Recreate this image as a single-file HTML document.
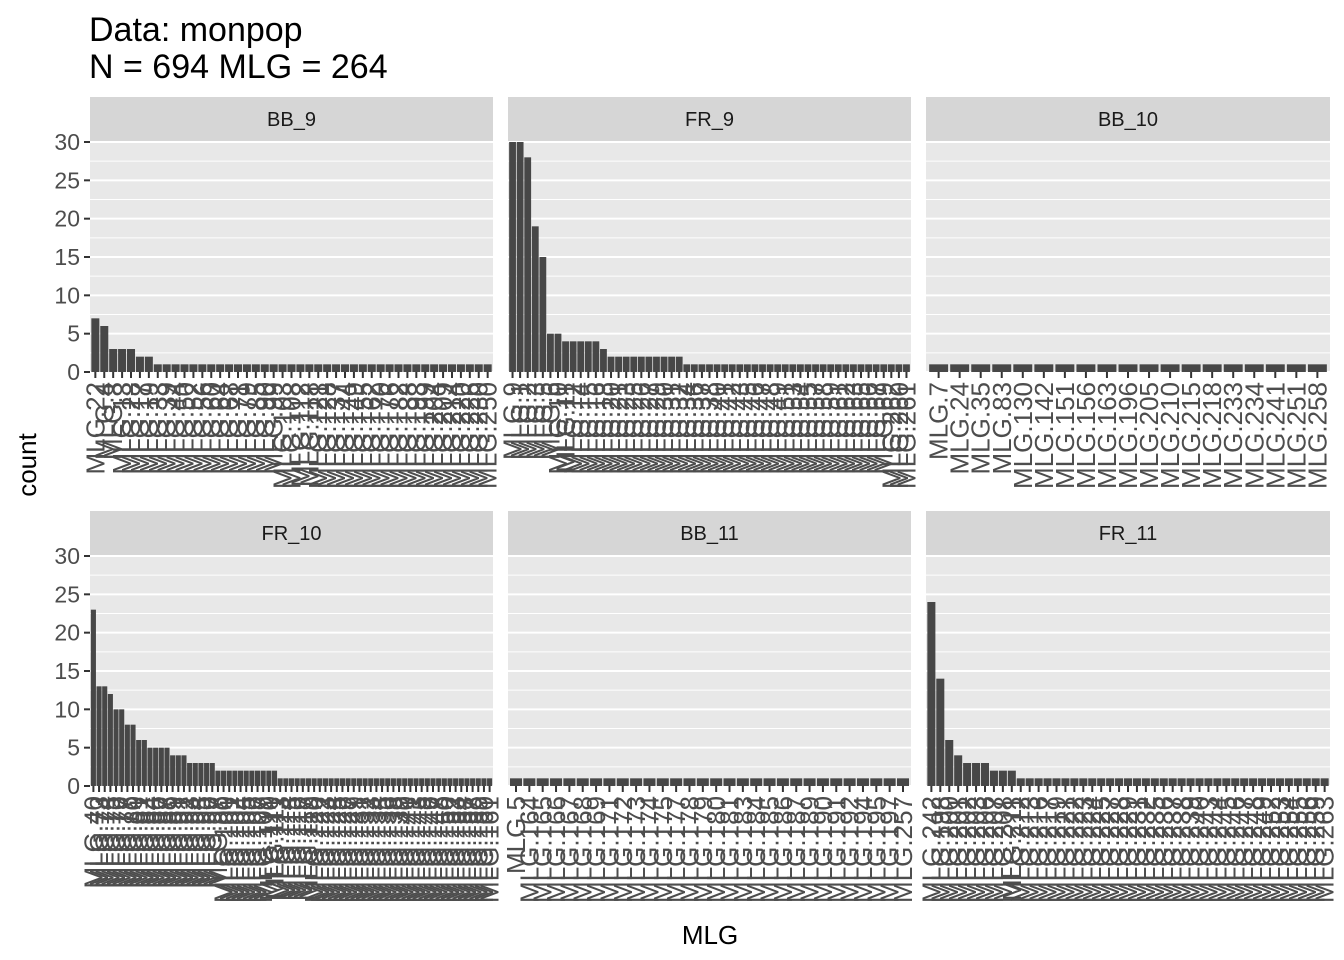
<!DOCTYPE html>
<html><head><meta charset="utf-8">
<style>
html,body{margin:0;padding:0;background:#fff;}
svg{display:block;font-family:"Liberation Sans",Arial,sans-serif;}
</style></head>
<body>
<svg id="chart" width="1344" height="960" viewBox="0 0 1344 960" xmlns="http://www.w3.org/2000/svg">
<text x="89" y="41" font-size="34" fill="#000">Data: monpop</text>
<text x="89" y="78" font-size="34" fill="#000">N = 694 MLG = 264</text>
<text transform="translate(36,465) rotate(-90)" text-anchor="middle" font-size="26" fill="#000">count</text>
<text x="710" y="944" text-anchor="middle" font-size="26" fill="#000">MLG</text>
<g id="panels"></g>
</svg>
<script>
const panelNames = ["BB_9","FR_9","BB_10","FR_10","BB_11","FR_11"];
const valsBB9 = [7,6,3,3,3,2,2,1,1,1,1,1,1,1,1,1,1,1,1,1,1,1,1,1,1,1,1,1,1,1,1,1,1,1,1,1,1,1,1,1,1,1,1,1,1];
const valsFR9 = [30,30,28,19,15,5,5,4,4,4,4,4,3,2,2,2,2,2,2,2,2,2,2,1,1,1,1,1,1,1,1,1,1,1,1,1,1,1,1,1,1,1,1,1,1,1,1,1,1,1,1,1,1];
const valsBB10 = [1,1,1,1,1,1,1,1,1,1,1,1,1,1,1,1,1,1,1];
const valsFR10 = [23,13,13,12,10,10,8,8,6,6,5,5,5,5,4,4,4,3,3,3,3,3,2,2,2,2,2,2,2,2,2,2,2,1,1,1,1,1,1,1,1,1,1,1,1,1,1,1,1,1,1,1,1,1,1,1,1,1,1,1,1,1,1,1,1,1,1,1,1,1,1];
const valsBB11 = [1,1,1,1,1,1,1,1,1,1,1,1,1,1,1,1,1,1,1,1,1,1,1,1,1,1,1,1,1,1];
const valsFR11 = [24,14,6,4,3,3,3,2,2,2,1,1,1,1,1,1,1,1,1,1,1,1,1,1,1,1,1,1,1,1,1,1,1,1,1,1,1,1,1,1,1,1,1,1,1];
const labsBB9 = [22,4,8,13,28,17,19,33,39,44,50,52,56,60,64,68,71,79,85,90,99,103,108,112,118,121,128,137,144,149,155,162,170,176,182,188,193,199,204,209,214,220,226,230,250];
const labsFR9 = [9,1,2,3,5,6,10,11,12,14,15,16,18,20,21,23,25,26,27,29,30,31,32,34,36,37,38,40,41,42,43,45,46,47,48,49,51,53,54,55,57,58,59,61,62,63,65,66,67,69,262,260,261];
const labsBB10 = [7,24,35,83,130,142,151,156,163,196,205,210,215,218,233,234,241,251,258];
const labsFR10 = [40,73,74,75,76,77,78,80,81,82,84,86,87,88,89,91,92,93,94,95,96,97,98,100,101,102,104,105,106,107,109,110,111,113,114,115,116,117,119,120,122,123,124,125,126,127,129,131,132,133,134,135,136,138,139,140,141,143,145,146,147,148,150,152,153,154,157,158,159,160,161];
const labsBB11 = [5,164,165,166,167,168,169,171,172,173,174,175,177,178,179,180,181,183,184,185,186,187,189,190,191,192,194,195,197,257];
const labsFR11 = [242,198,200,201,202,203,206,207,208,211,212,213,216,217,219,221,222,223,224,225,227,228,229,231,232,235,236,237,238,239,240,243,244,245,246,247,248,249,252,253,254,255,256,259,263];
const yTicks = [0,5,10,15,20,25,30];
const yMinor = [2.5,7.5,12.5,17.5,22.5,27.5];

const allVals = [valsBB9,valsFR9,valsBB10,valsFR10,valsBB11,valsFR11];
const allLabs = [labsBB9,labsFR9,labsBB10,labsFR10,labsBB11,labsFR11];
const colX = [[90,493],[508,911],[926,1330]];
const rowY = [{s:97,t:141,b:372},{s:511,t:555,b:786}];
const NS = "http://www.w3.org/2000/svg";
const root = document.getElementById("panels");
function mk(tag, attrs, parent){
  const e = document.createElementNS(NS, tag);
  for (const k in attrs) e.setAttribute(k, attrs[k]);
  parent.appendChild(e);
  return e;
}
for (let p = 0; p < 6; p++) {
  const c = colX[p % 3], r = rowY[Math.floor(p / 3)];
  const L = c[0], R = c[1], W = R - L, T = r.t, B = r.b;
  const yS = v => B - v * (B - T - 1) / 30;
  const vals = allVals[p], labs = allLabs[p], n = vals.length;
  const band = W / (n + 0.2);
  const xC = i => L + (i + 1 - 0.4) * band;
  const g = mk("g", {}, root);
  
  
  const strip = mk("rect", {x:L, y:r.s, width:W, height:T - r.s, fill:"#d6d6d6"}, g);
  
  
  const st = mk("text", {x:(L + R) / 2, y:(r.s + T) / 2 + 7, "text-anchor":"middle", "font-size":"20", fill:"#1a1a1a"}, g);
  st.textContent = panelNames[p];
  
  
  const bg = mk("rect", {x:L, y:T, width:W, height:B - T, fill:"#e8e8e8"}, g);
  
  
  yMinor.forEach(v => {
    const l = mk("line", {x1:L, x2:R, y1:yS(v), y2:yS(v), stroke:"#fff", "stroke-width":"1"}, g);
    
    
  });
  yTicks.forEach(v => {
    const l = mk("line", {x1:L, x2:R, y1:yS(v), y2:yS(v), stroke:"#fff", "stroke-width":"2"}, g);
    
    
  });
  for (let i = 0; i < n; i++) {
    const x = xC(i), bw = band * 0.9;
    const b = mk("rect", {x:x - bw / 2, y:yS(vals[i]), width:bw, height:B - yS(vals[i]), fill:"#474747"}, g);
    
    
    const tk = mk("line", {x1:x, x2:x, y1:B, y2:B + 6, stroke:"#333", "stroke-width":"2"}, g);
    
    
    const tl = mk("text", {transform:"translate(" + (x + 9) + "," + (B + 10) + ") rotate(-90)", "text-anchor":"end", "font-size":"26", fill:"#4d4d4d"}, g);
    tl.textContent = "MLG." + labs[i];
    
    
  }
  if (p % 3 === 0) {
    yTicks.forEach(v => {
      const tk = mk("line", {x1:L - 6, x2:L, y1:yS(v), y2:yS(v), stroke:"#333", "stroke-width":"2"}, g);
      
      
      const tl = mk("text", {x:L - 10, y:yS(v) + 8, "text-anchor":"end", "font-size":"23", fill:"#4d4d4d"}, g);
      tl.textContent = v;
      
      
    });
  }
}
</script>
</body></html>
